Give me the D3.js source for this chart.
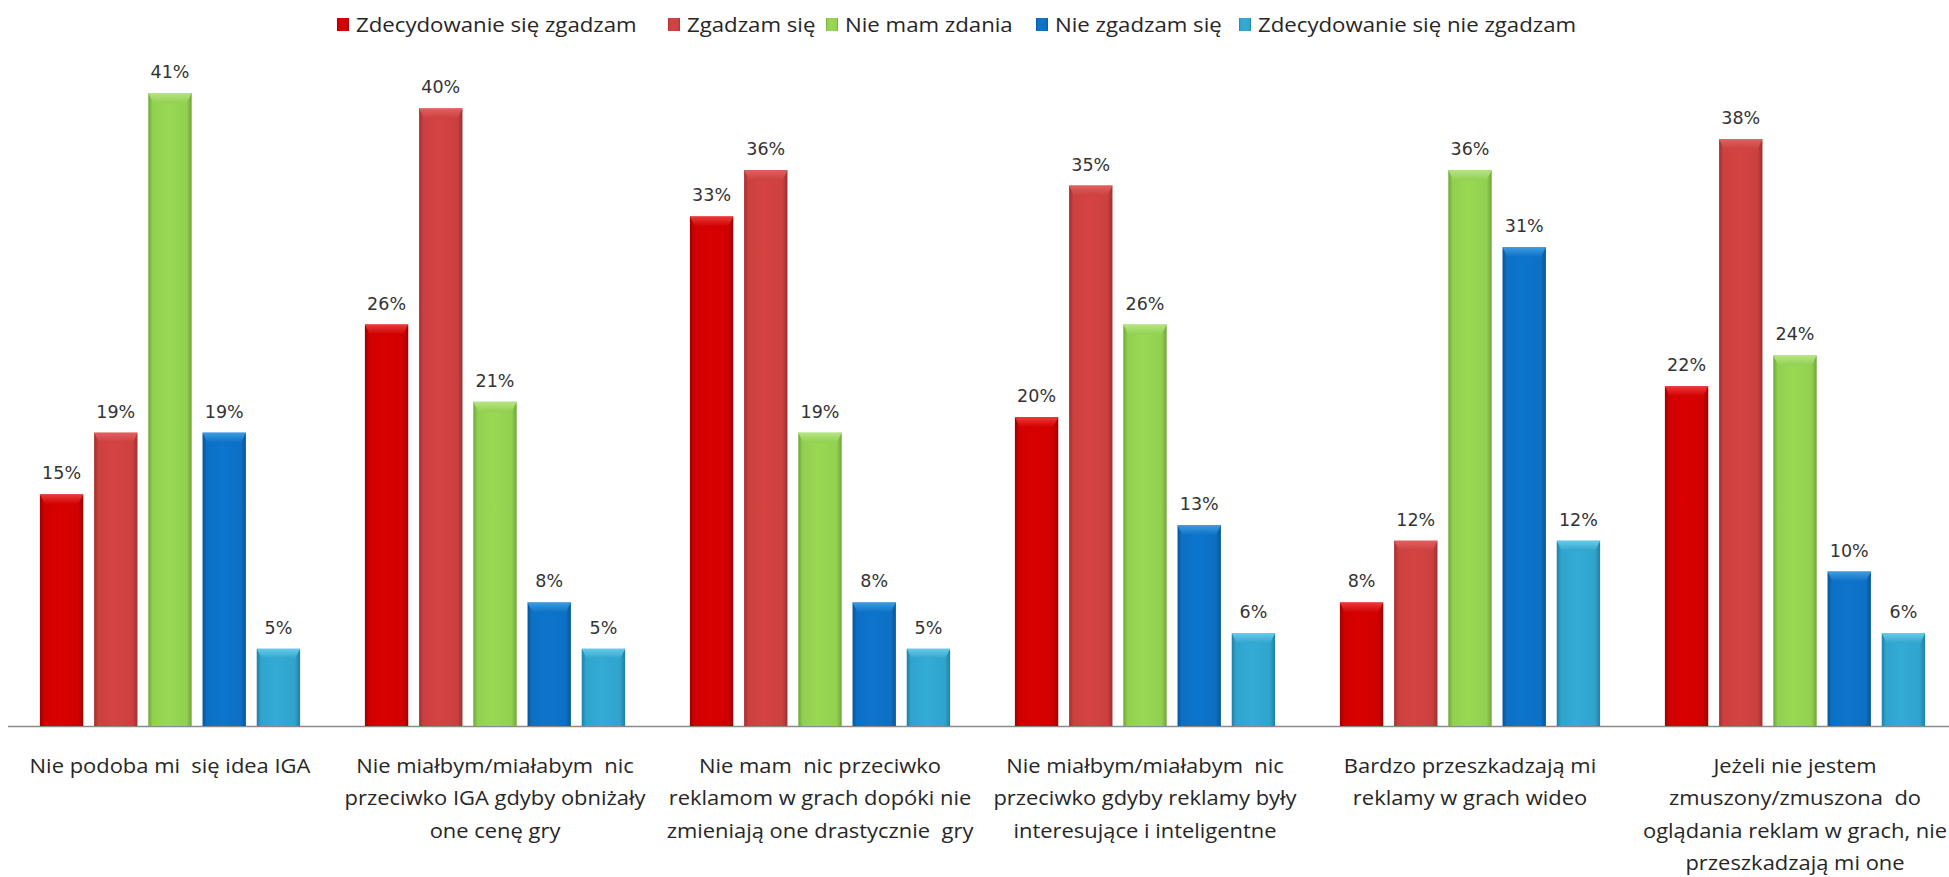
<!DOCTYPE html>
<html>
<head>
<meta charset="utf-8">
<script src="https://cdn.jsdelivr.net/npm/d3@7"></script>
<style>
  body { margin: 0; background: #ffffff; }
  .tick text { white-space: pre; }
</style>
</head>
<body>
<svg id="chart" width="1949" height="877"></svg>
<script>
// Survey statements (category axis), line breaks as printed under each group
const categories = [
  "Nie podoba mi  się idea IGA",
  "Nie miałbym/miałabym  nic\nprzeciwko IGA gdyby obniżały\none cenę gry",
  "Nie mam  nic przeciwko\nreklamom w grach dopóki nie\nzmieniają one drastycznie  gry",
  "Nie miałbym/miałabym  nic\nprzeciwko gdyby reklamy były\ninteresujące i inteligentne",
  "Bardzo przeszkadzają mi\nreklamy w grach wideo",
  "Jeżeli nie jestem\nzmuszony/zmuszona  do\noglądania reklam w grach, nie\nprzeszkadzają mi one"
];

// Answer options (legend order)
const seriesNames = [
  "Zdecydowanie się zgadzam",
  "Zgadzam się",
  "Nie mam  zdania",
  "Nie zgadzam  się",
  "Zdecydowanie się nie zgadzam"
];

// Share of respondents (%) per statement
const strongAgree    = [15, 26, 33, 20,  8, 22];
const agree          = [19, 40, 36, 35, 12, 38];
const noOpinion      = [41, 21, 19, 26, 36, 24];
const disagree       = [19,  8,  8, 13, 31, 10];
const strongDisagree = [ 5,  5,  5,  6, 12,  6];

const seriesValues = [strongAgree, agree, noOpinion, disagree, strongDisagree];

// Fill tones per answer: edge, body, highlight
const palette = [
  { dark: "#9c0000", base: "#d00000", light: "#ea3a3a" },
  { dark: "#9e3030", base: "#cc4040", light: "#e26060" },
  { dark: "#6fa53a", base: "#92d050", light: "#b4e680" },
  { dark: "#085596", base: "#0c70c4", light: "#3c9be2" },
  { dark: "#1f7fa6", base: "#30a4cc", light: "#66cbea" }
];

const baseY = 726;
const svg = d3.select("#chart");
const textFont = "'Open Sans', Lato, sans-serif";

const rows = categories.map((c, i) => ({
  cat: c,
  vals: seriesValues.map((s, k) => ({ k, v: s[i] }))
}));

const x0 = d3.scaleBand()
  .domain(categories)
  .range([7.5, 1957.5])
  .paddingInner(0.166)
  .paddingOuter(0.083);

const x1 = d3.scaleBand()
  .domain(d3.range(seriesNames.length))
  .range([0, x0.bandwidth()])
  .paddingInner(0.2)
  .paddingOuter(0.1);

const y = d3.scaleLinear().domain([0, 45]).range([baseY, baseY - 45 * 15.44]);

// Gradients giving the bars their rounded, cylinder-like shading
const defs = svg.append("defs");
palette.forEach((p, k) => {
  const g = defs.append("linearGradient").attr("id", "bar" + k)
    .attr("x1", "0").attr("x2", "1").attr("y1", "0").attr("y2", "0");
  [[0, p.dark], [0.1, p.base], [0.45, d3.color(p.base).brighter(0.12)], [0.88, p.base], [1, p.dark]]
    .forEach(([o, c]) => g.append("stop").attr("offset", o).attr("stop-color", c));
  const t = defs.append("linearGradient").attr("id", "cap" + k)
    .attr("x1", "0").attr("x2", "0").attr("y1", "0").attr("y2", "1");
  [[0, p.light], [1, p.base]]
    .forEach(([o, c]) => t.append("stop").attr("offset", o).attr("stop-color", c));
});

// Category axis with its baseline
const axis = svg.append("g")
  .attr("transform", `translate(0,${baseY})`)
  .call(d3.axisBottom(x0).tickSize(0).tickPadding(0));
axis.select(".domain").attr("stroke", "#8a8a8a").attr("stroke-width", 1.5);
axis.selectAll(".tick text").each(function (d) {
  const t = d3.select(this).text(null)
    .attr("y", 0).attr("dy", null)
    .attr("transform", "scale(1.07,1)")
    .attr("fill", "#262626")
    .style("font-family", textFont)
    .style("font-size", "20.5px");
  d.split("\n").forEach((line, i) => {
    t.append("tspan").attr("x", 0).attr("y", 47 + i * 32.5).text(line);
  });
});

// Bars
const groups = svg.append("g").selectAll("g")
  .data(rows).join("g")
  .attr("transform", d => `translate(${x0(d.cat)},0)`);

const bars = groups.selectAll("g.bar")
  .data(d => d.vals).join("g").attr("class", "bar");

bars.append("rect")
  .attr("x", d => x1(d.k))
  .attr("y", d => y(d.v))
  .attr("width", x1.bandwidth())
  .attr("height", d => y(0) - y(d.v))
  .attr("fill", d => `url(#bar${d.k})`);

// Bevelled top edge
bars.append("path")
  .attr("d", d => {
    const xa = x1(d.k), xb = xa + x1.bandwidth(), t = y(d.v), h = 10, i = 5;
    return `M${xa},${t}L${xb},${t}L${xb - i},${t + h}L${xa + i},${t + h}Z`;
  })
  .attr("fill", d => `url(#cap${d.k})`);

// Value labels
bars.append("text")
  .attr("x", d => x1(d.k) + x1.bandwidth() / 2)
  .attr("y", d => y(d.v) - 15)
  .attr("text-anchor", "middle")
  .attr("fill", "#333333")
  .style("font-family", "'DejaVu Sans', Verdana, sans-serif")
  .style("font-size", "17.5px")
  .text(d => d.v + "%");

// Legend
const legendX = [337, 668, 826, 1036, 1239];
const legend = svg.append("g").selectAll("g")
  .data(seriesNames).join("g")
  .attr("transform", (d, k) => `translate(${legendX[k]},18)`);
legend.append("rect")
  .attr("width", 12).attr("height", 13)
  .attr("fill", (d, k) => `url(#bar${k})`);
legend.append("text")
  .attr("transform", "translate(19,14) scale(1.14,1)")
  .attr("fill", "#262626")
  .style("font-family", textFont)
  .style("font-size", "19.5px")
  .text(d => d);
</script>
</body>
</html>
